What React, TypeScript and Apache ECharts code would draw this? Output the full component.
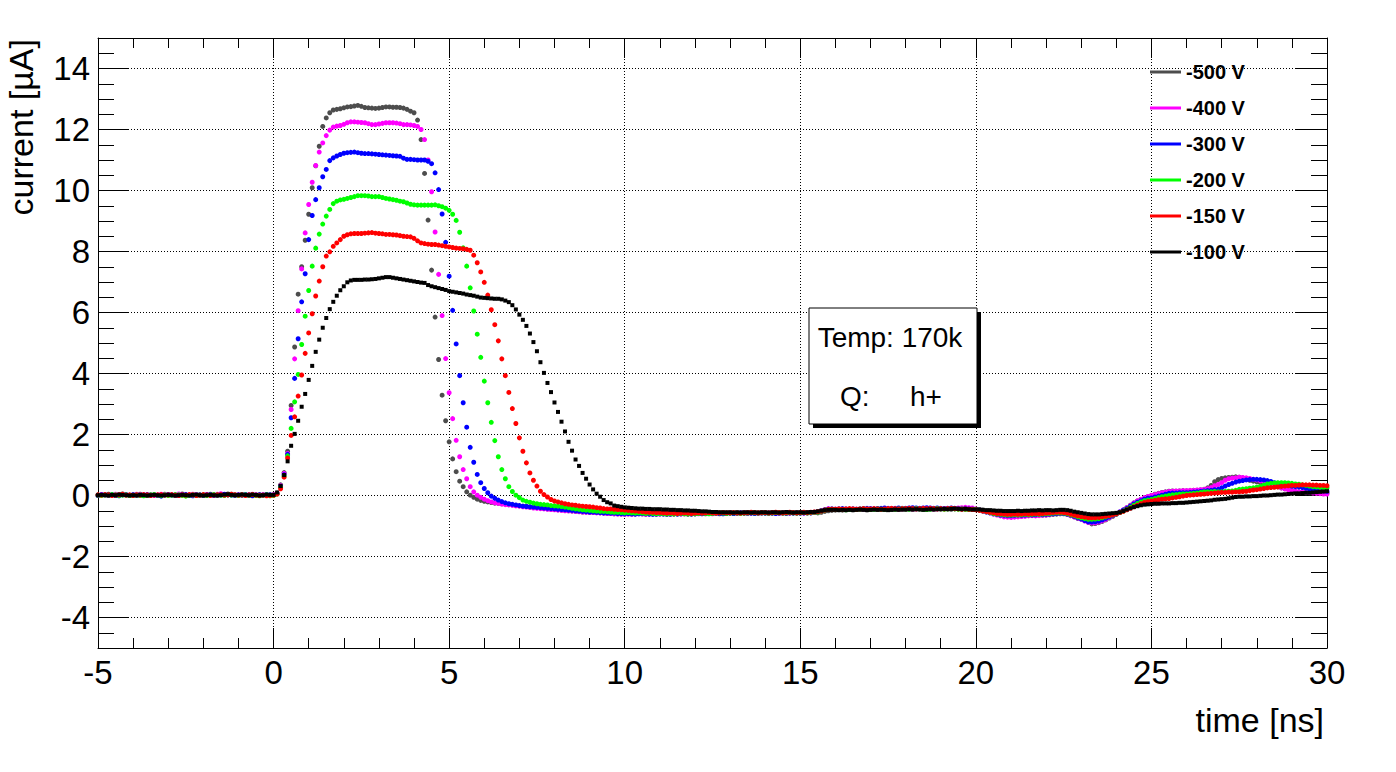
import React, { useEffect, useRef } from "react";
import * as echarts from "echarts";

// sampling grid of the scope traces (ns)
const T_START = -5;
const T_STEP = 0.1;

const SERIES_NAMES = ["-500 V", "-400 V", "-300 V", "-200 V", "-150 V", "-100 V"];
const SERIES_COLORS = ["#4d4d4d", "#ff00ff", "#0000ff", "#00ff00", "#ff0000", "#000000"];
const Y_TICKS = [-4, -2, 0, 2, 4, 6, 8, 10, 12, 14];

const V500 = [
  0.02,0.03,0.01,0.04,0.02,0.00,0.03,0.05,0.02,0.01,
  0.03,0.02,0.04,0.01,0.00,0.02,0.03,0.01,0.02,0.04,
  0.03,0.01,0.00,0.02,0.05,0.03,0.02,0.01,0.03,0.02,
  0.00,0.02,0.04,0.03,0.01,0.02,0.03,0.05,0.04,0.02,
  0.01,0.03,0.02,0.00,-0.01,0.02,0.03,0.02,0.01,0.02,
  0.03,0.08,0.35,0.75,1.45,2.95,4.87,6.60,7.50,8.37,
  9.22,10.09,10.81,11.45,12.10,12.38,12.55,12.64,12.66,12.68,
  12.71,12.74,12.75,12.77,12.79,12.76,12.72,12.71,12.70,12.69,
  12.70,12.72,12.74,12.74,12.73,12.73,12.72,12.70,12.66,12.60,
  12.55,12.31,11.67,10.56,9.03,7.39,5.85,4.46,3.29,2.45,
  1.76,1.20,0.78,0.47,0.29,0.12,0.01,-0.06,-0.12,-0.16,
  -0.19,-0.21,-0.23,-0.25,-0.26,-0.27,-0.28,-0.30,-0.31,-0.33,
  -0.34,-0.35,-0.36,-0.38,-0.39,-0.40,-0.41,-0.42,-0.44,-0.45,
  -0.46,-0.47,-0.48,-0.49,-0.50,-0.51,-0.52,-0.53,-0.54,-0.54,
  -0.55,-0.56,-0.56,-0.57,-0.58,-0.59,-0.59,-0.60,-0.60,-0.61,
  -0.61,-0.60,-0.61,-0.60,-0.59,-0.60,-0.61,-0.60,-0.60,-0.61,
  -0.60,-0.59,-0.60,-0.61,-0.60,-0.60,-0.59,-0.60,-0.61,-0.60,
  -0.60,-0.59,-0.59,-0.60,-0.59,-0.58,-0.59,-0.60,-0.59,-0.58,
  -0.58,-0.59,-0.58,-0.57,-0.58,-0.59,-0.58,-0.58,-0.57,-0.58,
  -0.58,-0.59,-0.58,-0.58,-0.57,-0.58,-0.59,-0.58,-0.57,-0.58,
  -0.58,-0.57,-0.58,-0.57,-0.56,-0.57,-0.55,-0.52,-0.50,-0.49,
  -0.48,-0.47,-0.48,-0.47,-0.46,-0.47,-0.46,-0.45,-0.46,-0.47,
  -0.46,-0.45,-0.46,-0.45,-0.44,-0.45,-0.46,-0.45,-0.44,-0.45,
  -0.45,-0.44,-0.45,-0.44,-0.43,-0.44,-0.45,-0.44,-0.43,-0.44,
  -0.44,-0.43,-0.44,-0.45,-0.44,-0.43,-0.44,-0.45,-0.44,-0.45,
  -0.45,-0.46,-0.48,-0.51,-0.55,-0.58,-0.61,-0.63,-0.65,-0.66,
  -0.66,-0.67,-0.66,-0.65,-0.66,-0.65,-0.64,-0.65,-0.64,-0.63,
  -0.64,-0.63,-0.62,-0.61,-0.60,-0.60,-0.62,-0.66,-0.70,-0.75,
  -0.75,-0.82,-0.88,-0.93,-0.92,-0.89,-0.85,-0.80,-0.74,-0.68,
  -0.62,-0.55,-0.48,-0.40,-0.32,-0.24,-0.18,-0.13,-0.08,-0.04,
  0.00,0.04,0.07,0.10,0.12,0.14,0.15,0.14,0.15,0.16,
  0.15,0.16,0.17,0.17,0.18,0.20,0.25,0.33,0.45,0.52,
  0.56,0.58,0.59,0.60,0.61,0.60,0.58,0.55,0.50,0.47,
  0.45,0.42,0.38,0.35,0.33,0.30,0.28,0.25,0.22,0.19,
  0.17,0.14,0.12,0.10,0.09,0.09,0.10,0.09,0.08,0.09,
  0.09,
];

const V400 = [
  0.01,0.03,0.02,0.00,0.02,0.04,0.01,0.02,0.03,0.00,
  0.02,0.04,0.02,0.01,0.03,0.02,0.00,0.02,0.04,0.03,
  0.01,0.02,0.03,0.05,0.02,0.01,0.02,0.04,0.02,0.00,
  0.02,0.03,0.01,0.02,0.04,0.06,0.03,0.02,0.01,0.03,
  0.02,0.00,0.03,0.02,0.04,0.02,0.01,0.03,0.02,0.01,
  0.02,0.07,0.32,0.72,1.38,2.82,4.48,6.06,7.43,8.61,
  9.54,10.27,10.82,11.26,11.56,11.80,11.98,12.08,12.11,12.13,
  12.17,12.22,12.25,12.25,12.24,12.23,12.22,12.19,12.16,12.16,
  12.18,12.20,12.22,12.22,12.22,12.21,12.19,12.16,12.16,12.15,
  12.13,12.10,12.00,11.67,11.00,9.96,8.64,7.25,5.90,4.49,
  3.37,2.52,1.81,1.27,0.85,0.55,0.29,0.12,0.01,-0.06,
  -0.12,-0.17,-0.21,-0.24,-0.26,-0.28,-0.30,-0.31,-0.32,-0.34,
  -0.35,-0.37,-0.38,-0.39,-0.41,-0.42,-0.43,-0.44,-0.45,-0.46,
  -0.47,-0.48,-0.49,-0.50,-0.50,-0.51,-0.52,-0.53,-0.54,-0.55,
  -0.55,-0.56,-0.57,-0.57,-0.58,-0.59,-0.59,-0.60,-0.61,-0.61,
  -0.62,-0.61,-0.62,-0.61,-0.60,-0.61,-0.62,-0.61,-0.60,-0.61,
  -0.61,-0.60,-0.61,-0.62,-0.61,-0.60,-0.61,-0.60,-0.61,-0.60,
  -0.59,-0.60,-0.59,-0.58,-0.59,-0.60,-0.59,-0.58,-0.59,-0.58,
  -0.57,-0.58,-0.59,-0.58,-0.57,-0.58,-0.57,-0.58,-0.59,-0.58,
  -0.57,-0.58,-0.57,-0.58,-0.59,-0.58,-0.57,-0.58,-0.57,-0.58,
  -0.57,-0.58,-0.57,-0.56,-0.55,-0.53,-0.50,-0.46,-0.43,-0.44,
  -0.45,-0.44,-0.45,-0.46,-0.45,-0.44,-0.45,-0.46,-0.45,-0.44,
  -0.45,-0.44,-0.43,-0.44,-0.45,-0.44,-0.43,-0.44,-0.45,-0.44,
  -0.43,-0.44,-0.45,-0.44,-0.43,-0.44,-0.43,-0.44,-0.45,-0.44,
  -0.44,-0.43,-0.42,-0.43,-0.42,-0.41,-0.40,-0.39,-0.40,-0.41,
  -0.44,-0.47,-0.50,-0.53,-0.57,-0.61,-0.64,-0.67,-0.70,-0.71,
  -0.72,-0.71,-0.70,-0.69,-0.68,-0.67,-0.66,-0.67,-0.66,-0.65,
  -0.64,-0.62,-0.60,-0.59,-0.58,-0.59,-0.62,-0.66,-0.70,-0.74,
  -0.78,-0.84,-0.88,-0.90,-0.90,-0.87,-0.83,-0.78,-0.72,-0.66,
  -0.60,-0.54,-0.47,-0.40,-0.33,-0.25,-0.18,-0.12,-0.07,-0.03,
  0.00,0.03,0.06,0.09,0.11,0.13,0.14,0.15,0.15,0.16,
  0.16,0.17,0.17,0.18,0.19,0.20,0.22,0.26,0.32,0.36,
  0.42,0.50,0.55,0.57,0.58,0.60,0.59,0.58,0.56,0.53,
  0.51,0.48,0.45,0.42,0.38,0.34,0.30,0.25,0.22,0.19,
  0.16,0.14,0.12,0.11,0.10,0.10,0.08,0.07,0.06,0.05,
  0.05,
];

const V300 = [
  0.00,0.02,0.03,0.01,0.02,0.00,-0.01,0.02,0.03,0.01,
  0.02,0.01,0.00,0.02,0.03,0.01,0.02,0.00,-0.02,0.01,
  0.03,0.02,0.01,0.00,0.02,0.03,0.01,-0.01,0.01,0.02,
  0.01,0.03,0.02,0.00,0.01,0.02,0.04,0.02,0.01,0.00,
  0.02,0.01,0.03,0.02,0.00,0.01,0.02,0.01,0.03,0.02,
  0.01,0.06,0.30,0.68,1.35,2.55,3.84,5.14,6.35,7.27,
  8.39,9.18,9.70,10.09,10.45,10.69,10.98,11.07,11.13,11.18,
  11.22,11.24,11.25,11.26,11.24,11.22,11.21,11.21,11.20,11.19,
  11.18,11.17,11.16,11.15,11.14,11.13,11.12,11.06,11.02,11.02,
  11.01,11.00,11.00,11.00,10.96,10.88,10.58,10.03,9.23,8.30,
  7.19,6.07,4.97,3.93,3.04,2.24,1.58,1.09,0.69,0.42,
  0.23,0.09,-0.02,-0.09,-0.15,-0.20,-0.24,-0.27,-0.29,-0.31,
  -0.33,-0.35,-0.36,-0.37,-0.38,-0.39,-0.40,-0.41,-0.42,-0.43,
  -0.44,-0.45,-0.46,-0.47,-0.48,-0.49,-0.50,-0.51,-0.52,-0.53,
  -0.54,-0.54,-0.55,-0.56,-0.57,-0.57,-0.58,-0.58,-0.59,-0.59,
  -0.60,-0.59,-0.60,-0.61,-0.60,-0.59,-0.60,-0.61,-0.62,-0.61,
  -0.60,-0.61,-0.62,-0.61,-0.60,-0.61,-0.60,-0.59,-0.60,-0.61,
  -0.60,-0.59,-0.60,-0.59,-0.58,-0.59,-0.58,-0.59,-0.60,-0.59,
  -0.58,-0.59,-0.58,-0.57,-0.58,-0.57,-0.58,-0.59,-0.58,-0.57,
  -0.58,-0.57,-0.58,-0.59,-0.58,-0.57,-0.58,-0.57,-0.58,-0.57,
  -0.58,-0.57,-0.56,-0.57,-0.55,-0.53,-0.50,-0.47,-0.45,-0.44,
  -0.45,-0.44,-0.43,-0.44,-0.45,-0.44,-0.45,-0.44,-0.43,-0.42,
  -0.43,-0.44,-0.43,-0.42,-0.41,-0.42,-0.43,-0.42,-0.41,-0.42,
  -0.42,-0.41,-0.40,-0.41,-0.42,-0.41,-0.40,-0.41,-0.42,-0.41,
  -0.42,-0.43,-0.42,-0.41,-0.42,-0.43,-0.44,-0.43,-0.44,-0.45,
  -0.46,-0.48,-0.51,-0.54,-0.57,-0.60,-0.62,-0.64,-0.65,-0.66,
  -0.66,-0.65,-0.64,-0.65,-0.64,-0.63,-0.64,-0.63,-0.62,-0.63,
  -0.62,-0.61,-0.60,-0.59,-0.58,-0.59,-0.61,-0.64,-0.68,-0.73,
  -0.77,-0.82,-0.86,-0.87,-0.86,-0.84,-0.80,-0.75,-0.70,-0.65,
  -0.60,-0.54,-0.48,-0.42,-0.35,-0.28,-0.22,-0.17,-0.12,-0.09,
  -0.08,-0.05,-0.02,0.01,0.04,0.07,0.08,0.08,0.09,0.09,
  0.09,0.10,0.11,0.12,0.13,0.15,0.16,0.17,0.19,0.20,
  0.25,0.31,0.36,0.40,0.44,0.47,0.49,0.51,0.52,0.53,
  0.53,0.52,0.51,0.49,0.46,0.42,0.40,0.38,0.36,0.34,
  0.31,0.29,0.28,0.26,0.24,0.21,0.19,0.17,0.16,0.15,
  0.14,
];

const V200 = [
  0.01,0.00,0.02,0.01,0.03,0.02,0.00,0.01,0.02,0.00,
  0.01,0.02,0.00,-0.01,0.01,0.02,0.03,0.01,0.00,0.02,
  0.00,0.01,0.03,0.02,0.00,-0.02,0.01,0.02,0.00,0.01,
  0.02,0.00,0.01,0.03,0.02,0.01,0.00,0.02,0.01,0.02,
  0.00,0.01,0.02,0.01,0.03,0.00,-0.01,0.01,0.02,-0.01,
  0.00,0.05,0.27,0.64,1.30,2.20,3.07,3.97,4.95,5.88,
  6.72,7.52,8.11,8.57,8.90,9.16,9.38,9.57,9.65,9.69,
  9.71,9.74,9.77,9.80,9.83,9.83,9.83,9.82,9.80,9.80,
  9.80,9.77,9.74,9.72,9.70,9.68,9.65,9.63,9.59,9.55,
  9.53,9.52,9.52,9.52,9.52,9.52,9.53,9.50,9.47,9.42,
  9.35,9.22,9.02,8.63,8.12,7.52,6.81,6.05,5.29,4.53,
  3.75,3.04,2.40,1.80,1.27,0.85,0.55,0.29,0.13,0.01,
  -0.07,-0.15,-0.19,-0.22,-0.25,-0.27,-0.29,-0.30,-0.31,-0.33,
  -0.34,-0.35,-0.36,-0.38,-0.40,-0.42,-0.44,-0.45,-0.47,-0.48,
  -0.49,-0.50,-0.51,-0.52,-0.52,-0.53,-0.54,-0.55,-0.55,-0.56,
  -0.57,-0.56,-0.57,-0.58,-0.57,-0.58,-0.59,-0.58,-0.59,-0.60,
  -0.59,-0.60,-0.61,-0.60,-0.61,-0.60,-0.59,-0.60,-0.61,-0.60,
  -0.60,-0.59,-0.58,-0.59,-0.60,-0.59,-0.58,-0.57,-0.58,-0.59,
  -0.58,-0.57,-0.58,-0.59,-0.58,-0.57,-0.56,-0.57,-0.58,-0.57,
  -0.57,-0.58,-0.57,-0.56,-0.57,-0.58,-0.57,-0.56,-0.57,-0.58,
  -0.57,-0.56,-0.57,-0.56,-0.55,-0.54,-0.51,-0.48,-0.46,-0.45,
  -0.46,-0.45,-0.46,-0.47,-0.46,-0.45,-0.46,-0.45,-0.44,-0.45,
  -0.46,-0.45,-0.44,-0.45,-0.46,-0.45,-0.44,-0.45,-0.44,-0.43,
  -0.44,-0.45,-0.44,-0.43,-0.44,-0.45,-0.46,-0.45,-0.44,-0.43,
  -0.44,-0.45,-0.44,-0.43,-0.44,-0.45,-0.44,-0.45,-0.46,-0.45,
  -0.46,-0.48,-0.50,-0.53,-0.56,-0.59,-0.61,-0.62,-0.63,-0.64,
  -0.64,-0.63,-0.64,-0.63,-0.62,-0.63,-0.62,-0.61,-0.62,-0.61,
  -0.60,-0.59,-0.58,-0.57,-0.57,-0.58,-0.60,-0.63,-0.66,-0.70,
  -0.73,-0.76,-0.78,-0.78,-0.77,-0.76,-0.73,-0.70,-0.67,-0.63,
  -0.60,-0.56,-0.51,-0.45,-0.39,-0.32,-0.26,-0.21,-0.17,-0.15,
  -0.13,-0.10,-0.07,-0.04,-0.02,0.00,0.02,0.03,0.04,0.05,
  0.05,0.06,0.07,0.08,0.10,0.12,0.12,0.12,0.13,0.12,
  0.12,0.13,0.14,0.15,0.17,0.20,0.21,0.22,0.24,0.25,
  0.27,0.30,0.34,0.38,0.40,0.41,0.42,0.42,0.42,0.41,
  0.40,0.38,0.37,0.35,0.33,0.31,0.29,0.28,0.27,0.26,
  0.25,
];

const V150 = [
  0.02,0.01,0.03,0.02,0.00,0.01,0.02,0.04,0.01,0.02,
  0.00,0.02,0.01,0.03,0.02,0.00,0.01,0.02,0.03,0.01,
  0.02,0.03,0.01,0.00,0.02,0.01,0.03,0.02,0.00,0.01,
  0.03,0.02,0.00,0.01,0.02,0.03,0.01,0.02,0.04,0.02,
  0.01,0.02,0.00,0.02,0.03,0.01,0.00,0.01,-0.01,0.00,
  0.01,0.05,0.22,0.60,1.23,1.97,2.58,3.26,3.95,4.66,
  5.33,5.96,6.54,7.03,7.50,7.85,7.99,8.17,8.28,8.39,
  8.50,8.55,8.58,8.59,8.59,8.59,8.60,8.61,8.62,8.60,
  8.59,8.58,8.56,8.56,8.55,8.54,8.52,8.50,8.49,8.48,
  8.43,8.35,8.28,8.26,8.24,8.23,8.23,8.21,8.19,8.17,
  8.15,8.13,8.11,8.10,8.09,8.07,8.04,7.88,7.63,7.33,
  6.99,6.57,6.09,5.60,5.07,4.48,3.93,3.38,2.85,2.36,
  1.89,1.45,1.07,0.74,0.50,0.31,0.14,0.03,-0.05,-0.13,
  -0.18,-0.21,-0.24,-0.27,-0.29,-0.31,-0.32,-0.34,-0.35,-0.36,
  -0.37,-0.38,-0.40,-0.41,-0.43,-0.44,-0.44,-0.45,-0.46,-0.47,
  -0.48,-0.49,-0.50,-0.51,-0.52,-0.53,-0.54,-0.55,-0.55,-0.56,
  -0.56,-0.57,-0.58,-0.57,-0.58,-0.59,-0.58,-0.57,-0.58,-0.59,
  -0.58,-0.57,-0.58,-0.57,-0.56,-0.57,-0.58,-0.57,-0.56,-0.57,
  -0.57,-0.56,-0.57,-0.58,-0.57,-0.56,-0.55,-0.56,-0.57,-0.56,
  -0.56,-0.57,-0.56,-0.55,-0.56,-0.57,-0.56,-0.55,-0.56,-0.57,
  -0.56,-0.55,-0.56,-0.55,-0.54,-0.53,-0.51,-0.48,-0.46,-0.45,
  -0.45,-0.44,-0.45,-0.44,-0.43,-0.44,-0.45,-0.44,-0.43,-0.44,
  -0.44,-0.43,-0.44,-0.45,-0.44,-0.43,-0.42,-0.43,-0.44,-0.43,
  -0.43,-0.42,-0.43,-0.44,-0.43,-0.42,-0.43,-0.42,-0.43,-0.44,
  -0.43,-0.44,-0.43,-0.42,-0.43,-0.44,-0.45,-0.44,-0.45,-0.46,
  -0.47,-0.49,-0.51,-0.53,-0.55,-0.57,-0.59,-0.60,-0.61,-0.62,
  -0.62,-0.61,-0.62,-0.61,-0.60,-0.61,-0.60,-0.59,-0.60,-0.59,
  -0.58,-0.57,-0.56,-0.55,-0.55,-0.56,-0.58,-0.61,-0.64,-0.67,
  -0.69,-0.71,-0.73,-0.73,-0.73,-0.72,-0.70,-0.68,-0.66,-0.63,
  -0.60,-0.56,-0.52,-0.47,-0.42,-0.37,-0.32,-0.27,-0.23,-0.20,
  -0.18,-0.16,-0.14,-0.12,-0.11,-0.10,-0.08,-0.06,-0.04,-0.02,
  0.00,0.01,0.02,0.03,0.04,0.05,0.06,0.07,0.08,0.09,
  0.10,0.10,0.11,0.11,0.12,0.12,0.13,0.14,0.16,0.18,
  0.19,0.21,0.23,0.25,0.26,0.27,0.28,0.30,0.31,0.32,
  0.33,0.33,0.34,0.35,0.35,0.35,0.34,0.34,0.33,0.33,
  0.32,
];

const V100 = [
  0.01,0.02,0.01,0.00,0.02,0.01,0.03,0.02,0.01,0.00,
  0.01,0.00,0.02,0.01,0.00,0.01,0.02,0.01,0.00,0.01,
  0.02,0.01,0.00,0.01,0.02,0.01,0.00,0.02,0.03,0.01,
  0.00,0.01,0.02,0.01,0.00,0.01,0.03,0.04,0.02,0.01,
  0.02,0.03,0.02,0.01,0.03,0.02,0.00,0.01,0.03,0.02,
  0.02,0.10,0.31,0.67,1.12,1.63,2.02,2.45,2.91,3.33,
  3.79,4.25,4.71,5.11,5.50,5.82,6.11,6.35,6.55,6.73,
  6.86,6.99,7.05,7.07,7.07,7.07,7.08,7.08,7.09,7.10,
  7.12,7.14,7.16,7.16,7.14,7.12,7.10,7.08,7.06,7.04,
  7.02,7.00,6.98,6.97,6.90,6.86,6.83,6.80,6.77,6.74,
  6.70,6.68,6.66,6.64,6.62,6.59,6.57,6.55,6.52,6.49,
  6.48,6.47,6.46,6.45,6.45,6.43,6.39,6.34,6.24,6.10,
  5.93,5.76,5.56,5.31,5.03,4.73,4.37,4.02,3.69,3.39,
  3.05,2.74,2.42,2.10,1.76,1.47,1.18,0.97,0.74,0.55,
  0.36,0.20,0.06,-0.04,-0.15,-0.22,-0.26,-0.33,-0.35,-0.37,
  -0.39,-0.40,-0.41,-0.42,-0.43,-0.43,-0.44,-0.44,-0.45,-0.45,
  -0.45,-0.46,-0.46,-0.47,-0.47,-0.48,-0.48,-0.49,-0.49,-0.50,
  -0.50,-0.51,-0.52,-0.52,-0.53,-0.54,-0.54,-0.55,-0.55,-0.55,
  -0.55,-0.56,-0.55,-0.56,-0.55,-0.55,-0.56,-0.55,-0.56,-0.55,
  -0.55,-0.56,-0.55,-0.55,-0.56,-0.55,-0.54,-0.55,-0.56,-0.55,
  -0.55,-0.56,-0.55,-0.54,-0.54,-0.52,-0.50,-0.48,-0.47,-0.47,
  -0.47,-0.48,-0.47,-0.48,-0.47,-0.48,-0.47,-0.46,-0.47,-0.48,
  -0.47,-0.46,-0.47,-0.46,-0.47,-0.48,-0.47,-0.46,-0.47,-0.46,
  -0.46,-0.45,-0.46,-0.45,-0.46,-0.47,-0.46,-0.45,-0.46,-0.45,
  -0.45,-0.44,-0.45,-0.44,-0.43,-0.44,-0.45,-0.44,-0.45,-0.46,
  -0.46,-0.46,-0.47,-0.48,-0.48,-0.49,-0.50,-0.50,-0.51,-0.51,
  -0.51,-0.51,-0.50,-0.51,-0.50,-0.50,-0.49,-0.49,-0.48,-0.49,
  -0.48,-0.48,-0.49,-0.48,-0.47,-0.47,-0.48,-0.50,-0.53,-0.55,
  -0.57,-0.59,-0.61,-0.62,-0.62,-0.62,-0.61,-0.60,-0.59,-0.58,
  -0.57,-0.55,-0.51,-0.46,-0.42,-0.38,-0.35,-0.32,-0.30,-0.29,
  -0.28,-0.27,-0.27,-0.26,-0.26,-0.26,-0.25,-0.25,-0.24,-0.24,
  -0.23,-0.22,-0.21,-0.20,-0.19,-0.18,-0.17,-0.16,-0.14,-0.13,
  -0.12,-0.11,-0.09,-0.07,-0.05,-0.04,-0.04,-0.03,-0.03,-0.02,
  -0.02,-0.01,0.00,0.00,0.01,0.02,0.03,0.03,0.04,0.05,
  0.06,0.07,0.07,0.08,0.09,0.09,0.10,0.11,0.12,0.13,
  0.14,
];

const SERIES_VALUES = [V500, V400, V300, V200, V150, V100];

const FONT = "'Liberation Sans', Arial, Helvetica, sans-serif";

export default function App() {
  const ref = useRef<HTMLDivElement>(null);

  useEffect(() => {
    if (!ref.current) return;
    const chart = echarts.init(ref.current, undefined, { renderer: "svg" });

    const black = { color: "#000", width: 1 };
    const tickLabel = { fontFamily: FONT, fontSize: 33, color: "#000" };

    const option: any = {
      animation: false,
      backgroundColor: "#fff",
      grid: { left: 98, right: 69, top: 38, bottom: 124, containLabel: false },
      legend: {
        show: true,
        orient: "vertical",
        left: 1150,
        top: 62,
        padding: 0,
        icon: "rect",
        itemWidth: 31,
        itemHeight: 3,
        itemGap: 16,
        selectedMode: false,
        textStyle: { fontFamily: FONT, fontSize: 20, fontWeight: "bold", color: "#000", lineHeight: 20 },
        data: SERIES_NAMES,
      },
      xAxis: [
        {
          type: "value",
          position: "bottom",
          min: -5,
          max: 30,
          interval: 5,
          axisLine: { show: true, onZero: false, lineStyle: black },
          axisTick: { show: true, inside: true, length: 20, lineStyle: black },
          minorTick: { show: true, splitNumber: 5, length: 10, lineStyle: black },
          axisLabel: { ...tickLabel, margin: 8 },
          splitLine: { show: true, lineStyle: { color: "#000", width: 1, type: [1, 2] } },
          minorSplitLine: { show: false },
        },
        {
          type: "value",
          position: "top",
          min: -5,
          max: 30,
          interval: 5,
          axisLine: { show: true, onZero: false, lineStyle: black },
          axisTick: { show: true, inside: true, length: 20, lineStyle: black },
          minorTick: { show: true, splitNumber: 5, length: 10, lineStyle: black },
          axisLabel: { show: false },
          splitLine: { show: false },
        },
      ],
      yAxis: [
        {
          type: "value",
          position: "left",
          min: -5,
          max: 15,
          axisLine: { show: true, onZero: false, lineStyle: black },
          axisTick: { show: true, inside: true, length: 31, lineStyle: black, customValues: Y_TICKS },
          axisLabel: { ...tickLabel, margin: 8, customValues: Y_TICKS },
          splitLine: { show: true, lineStyle: { color: "#000", width: 1, type: [1, 2] } },
        },
        {
          type: "value",
          position: "left",
          min: -5,
          max: 15,
          interval: 0.5,
          axisLine: { show: false, onZero: false },
          axisTick: { show: true, inside: true, length: 16, lineStyle: black },
          axisLabel: { show: false },
          splitLine: { show: false },
        },
        {
          type: "value",
          position: "right",
          min: -5,
          max: 15,
          axisLine: { show: true, onZero: false, lineStyle: black },
          axisTick: { show: true, inside: true, length: 31, lineStyle: black, customValues: Y_TICKS },
          axisLabel: { show: false },
          splitLine: { show: false },
        },
        {
          type: "value",
          position: "right",
          min: -5,
          max: 15,
          interval: 0.5,
          axisLine: { show: false, onZero: false },
          axisTick: { show: true, inside: true, length: 16, lineStyle: black },
          axisLabel: { show: false },
          splitLine: { show: false },
        },
      ],
      series: SERIES_VALUES.map((vals, k) => ({
        type: "scatter",
        name: SERIES_NAMES[k],
        xAxisIndex: 0,
        yAxisIndex: 0,
        symbol: k === 5 ? "rect" : "circle",
        symbolSize: k === 5 ? 4 : 5,
        itemStyle: { color: SERIES_COLORS[k], opacity: 1 },
        silent: true,
        data: vals.map((v, i) => [Number((T_START + i * T_STEP).toFixed(2)), v]),
      })),
      graphic: [
        {
          type: "text",
          x: 21,
          y: 39,
          rotation: Math.PI / 2,
          style: {
            text: "current [µA]",
            fontFamily: FONT,
            fontSize: 34,
            fill: "#000",
            align: "right",
            verticalAlign: "middle",
          },
        },
        {
          type: "text",
          x: 1324,
          y: 720,
          style: {
            text: "time [ns]",
            fontFamily: FONT,
            fontSize: 34,
            fill: "#000",
            align: "right",
            verticalAlign: "middle",
          },
        },
        {
          type: "rect",
          shape: { x: 813, y: 312, width: 168, height: 116 },
          style: { fill: "#000" },
          z: 100,
        },
        {
          type: "rect",
          shape: { x: 809, y: 308, width: 168, height: 116 },
          style: { fill: "#fff", stroke: "#000", lineWidth: 1 },
          z: 101,
        },
        {
          type: "text",
          x: 890,
          y: 337,
          z: 102,
          style: { text: "Temp: 170k", fontFamily: FONT, fontSize: 28, fill: "#000", align: "center", verticalAlign: "middle" },
        },
        {
          type: "text",
          x: 840,
          y: 396,
          z: 102,
          style: { text: "Q:", fontFamily: FONT, fontSize: 28, fill: "#000", align: "left", verticalAlign: "middle" },
        },
        {
          type: "text",
          x: 910,
          y: 396,
          z: 102,
          style: { text: "h+", fontFamily: FONT, fontSize: 28, fill: "#000", align: "left", verticalAlign: "middle" },
        },
      ],
    };

    chart.setOption(option);
    return () => chart.dispose();
  }, []);

  return (
    <div
      ref={ref}
      style={{ position: "fixed", left: 0, top: 0, width: 1396, height: 772, background: "#fff" }}
    />
  );
}
